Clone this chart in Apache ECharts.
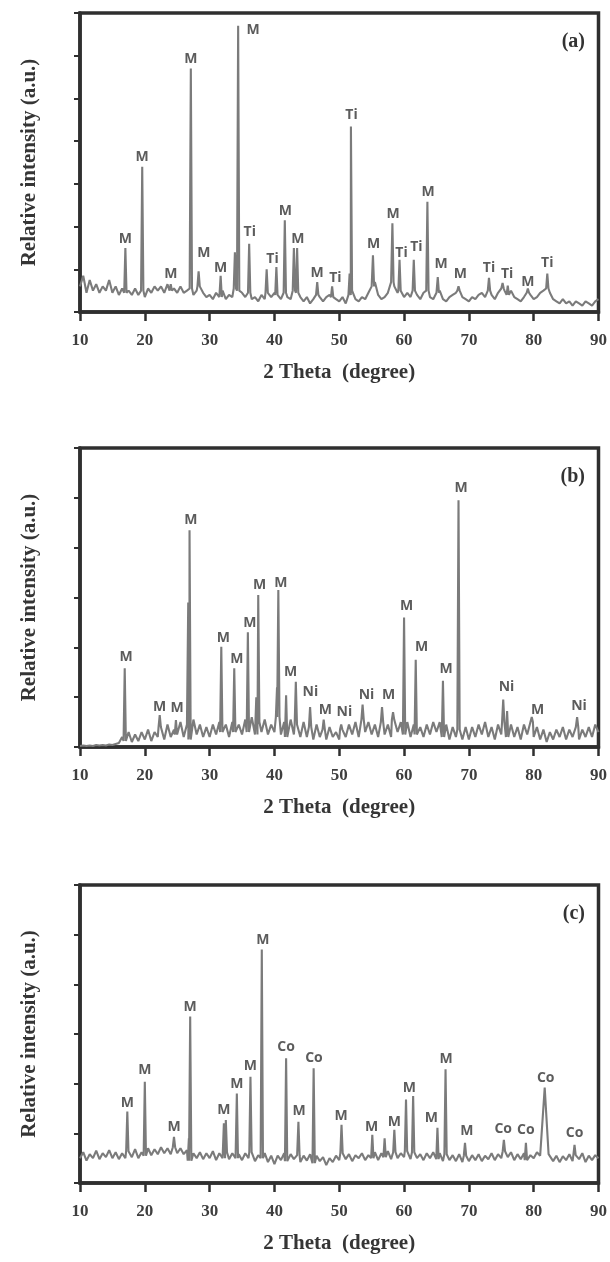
<!DOCTYPE html>
<html>
<head>
<meta charset="utf-8">
<script src="https://cdn.jsdelivr.net/npm/echarts@6/dist/echarts.min.js"></script>
<style>
  html, body { margin: 0; padding: 0; background: #fff; }
  #chart { width: 610px; height: 1262px; }
</style>
</head>
<body>
<div id="chart"></div>
<script>
// 2-theta grid of the background traces: 10 .. 90 deg, every 0.5 deg
const thetaStart = 10;
const thetaStep = 0.5;
const xTicks = [10, 20, 30, 40, 50, 60, 70, 80, 90];

// background level (relative units, one value per 0.5 deg)
const bgA = [
  0.6,0.85,0.45,0.75,0.5,0.65,0.45,0.6,0.5,0.75,
  0.45,0.6,0.4,0.55,0.45,0.5,0.4,0.55,0.4,0.5,
  0.35,0.55,0.45,0.6,0.5,0.6,0.45,0.65,0.5,0.55,
  0.45,0.6,0.45,0.5,0.55,0.4,0.5,0.6,0.45,0.35,
  0.4,0.3,0.45,0.35,0.5,0.3,0.4,0.35,0.55,0.5,
  0.45,0.35,0.45,0.3,0.35,0.25,0.4,0.3,0.45,0.35,
  0.45,0.4,0.3,0.45,0.35,0.3,0.5,0.45,0.35,0.25,
  0.35,0.2,0.3,0.4,0.35,0.25,0.35,0.4,0.35,0.3,
  0.25,0.35,0.2,0.4,0.5,0.3,0.25,0.35,0.3,0.45,
  0.6,0.7,0.4,0.3,0.35,0.45,0.7,0.6,0.45,0.5,
  0.35,0.45,0.35,0.5,0.4,0.3,0.45,0.5,0.35,0.3,
  0.45,0.5,0.3,0.25,0.35,0.4,0.45,0.5,0.35,0.3,
  0.25,0.35,0.3,0.4,0.45,0.35,0.5,0.4,0.3,0.45,
  0.55,0.5,0.4,0.5,0.35,0.3,0.25,0.35,0.45,0.4,
  0.3,0.35,0.45,0.5,0.55,0.45,0.3,0.25,0.2,0.3,
  0.2,0.25,0.15,0.25,0.2,0.15,0.25,0.2,0.15,0.25,
  0.3
];
const bgB = [
  0.02,0.03,0.02,0.03,0.02,0.04,0.03,0.04,0.03,0.05,
  0.04,0.06,0.08,0.2,0.12,0.3,0.1,0.25,0.12,0.3,
  0.15,0.35,0.12,0.3,0.2,0.4,0.15,0.45,0.2,0.35,
  0.25,0.5,0.2,0.45,0.15,0.55,0.25,0.45,0.2,0.4,
  0.2,0.45,0.25,0.5,0.3,0.45,0.2,0.5,0.3,0.45,
  0.25,0.55,0.3,0.6,0.25,0.5,0.3,0.55,0.25,0.45,
  0.3,0.6,0.25,0.5,0.2,0.55,0.25,0.45,0.2,0.5,
  0.2,0.4,0.15,0.45,0.2,0.35,0.15,0.4,0.2,0.3,
  0.15,0.35,0.2,0.45,0.25,0.5,0.2,0.55,0.3,0.5,
  0.25,0.45,0.2,0.5,0.25,0.45,0.2,0.55,0.3,0.5,
  0.25,0.5,0.2,0.45,0.25,0.4,0.2,0.45,0.25,0.5,
  0.3,0.5,0.2,0.45,0.15,0.4,0.2,0.35,0.15,0.4,
  0.15,0.4,0.2,0.45,0.25,0.5,0.2,0.4,0.15,0.45,
  0.25,0.5,0.2,0.45,0.2,0.4,0.15,0.45,0.25,0.5,
  0.2,0.4,0.15,0.35,0.1,0.3,0.15,0.35,0.2,0.4,
  0.15,0.35,0.2,0.4,0.15,0.35,0.2,0.4,0.2,0.45,
  0.3
];
const bgC = [
  0.5,0.62,0.45,0.58,0.5,0.65,0.48,0.6,0.52,0.66,
  0.5,0.62,0.48,0.6,0.5,0.64,0.52,0.68,0.5,0.62,
  0.55,0.7,0.56,0.68,0.58,0.72,0.6,0.7,0.58,0.72,
  0.6,0.7,0.58,0.66,0.45,0.6,0.5,0.62,0.48,0.6,
  0.5,0.64,0.46,0.6,0.5,0.62,0.48,0.6,0.5,0.58,
  0.46,0.6,0.5,0.62,0.44,0.56,0.5,0.6,0.42,0.55,
  0.38,0.55,0.46,0.6,0.44,0.58,0.48,0.56,0.42,0.55,
  0.45,0.58,0.4,0.55,0.44,0.52,0.36,0.5,0.42,0.55,
  0.46,0.6,0.48,0.58,0.44,0.56,0.5,0.6,0.46,0.56,
  0.5,0.62,0.46,0.6,0.52,0.64,0.48,0.62,0.5,0.6,
  0.52,0.64,0.48,0.62,0.5,0.58,0.46,0.6,0.5,0.62,
  0.48,0.6,0.44,0.58,0.46,0.56,0.44,0.58,0.42,0.55,
  0.44,0.56,0.46,0.58,0.44,0.55,0.48,0.6,0.46,0.58,
  0.5,0.64,0.52,0.62,0.46,0.58,0.48,0.6,0.46,0.56,
  0.5,0.62,0.55,0.58,0.46,0.56,0.44,0.55,0.42,0.54,
  0.46,0.58,0.44,0.56,0.48,0.6,0.42,0.55,0.46,0.56,
  0.5
];

// diffraction peaks: [2theta, top intensity, (optional half width)]
const peaksA = [
  [17.0,1.5],[19.6,3.4],[24.0,0.65],[27.1,5.7],[28.3,0.95],[31.7,0.85],[33.9,1.4],[34.4,6.7],
  [36.1,1.6],[38.8,1.0],[40.3,1.05],[41.6,2.15],[43.0,1.5],[43.5,1.5],[46.6,0.7],[48.9,0.6],
  [51.6,0.9],[51.8,4.34],[55.2,1.33],[58.2,2.08],[59.3,1.22],[61.5,1.22],[63.6,2.58],[65.2,0.82],
  [68.4,0.6],[73.1,0.8],[75.2,0.68],[76.0,0.62],[79.1,0.55],[82.1,0.9]
];
const peaksB = [
  [16.9,1.58],[22.3,0.64],[24.8,0.54],[26.7,2.9],[26.9,4.35],[31.8,2.01],[33.8,1.58],[35.9,2.3],
  [37.2,1.0],[37.5,3.05],[40.4,1.2],[40.6,3.15],[41.8,1.04],[43.3,1.31],[45.5,0.8],[47.6,0.55],
  [50.3,0.45],[53.6,0.85],[56.6,0.8],[58.3,0.7],[60.0,2.6],[61.8,1.75],[66.0,1.33],[68.4,4.95],
  [75.3,0.95],[75.9,0.72],[79.7,0.6],[86.7,0.6]
];
const peaksC = [
  [17.3,1.44],[20.0,2.04],[24.5,0.93],[26.8,0.9],[27.0,3.35],[32.2,1.2],[32.5,1.27],[34.2,1.8],
  [36.3,2.14],[38.05,4.7],[41.8,2.51],[43.7,1.23],[46.05,2.31],[50.35,1.17],[55.1,0.97],[57.0,0.9],
  [58.5,1.07],[60.3,1.68],[61.4,1.75],[65.15,1.11],[66.4,2.29],[69.4,0.81],[75.4,0.87],[78.8,0.81],
  [81.7,1.92,0.6],[86.3,0.77]
];

// phase labels: [2theta, height, text]
const labelsA = [
  [17.0,1.72,'M'],[19.6,3.63,'M'],[24.0,0.9,'M'],[27.1,5.92,'M'],[29.1,1.38,'M'],[31.7,1.02,'M'],
  [36.7,6.6,'M'],[36.2,1.87,'Ti'],[39.7,1.24,'Ti'],[41.7,2.36,'M'],[43.6,1.72,'M'],[46.6,0.92,'M'],
  [49.4,0.8,'Ti'],[51.9,4.6,'Ti'],[55.3,1.6,'M'],[58.3,2.3,'M'],[59.6,1.38,'Ti'],[61.9,1.52,'Ti'],
  [63.7,2.82,'M'],[65.7,1.12,'M'],[68.7,0.88,'M'],[73.1,1.04,'Ti'],[75.9,0.88,'Ti'],[79.1,0.7,'M'],
  [82.1,1.14,'Ti']
];
const labelsB = [
  [17.1,1.81,'M'],[22.3,0.8,'M'],[25.0,0.78,'M'],[27.1,4.55,'M'],[32.1,2.19,'M'],[34.2,1.77,'M'],
  [36.2,2.49,'M'],[37.7,3.25,'M'],[41.0,3.3,'M'],[42.5,1.5,'M'],[45.55,1.1,'Ni'],[47.85,0.75,'M'],
  [50.8,0.7,'Ni'],[54.2,1.05,'Ni'],[57.6,1.05,'M'],[60.4,2.82,'M'],[62.7,2.0,'M'],[66.5,1.57,'M'],
  [68.8,5.2,'M'],[75.8,1.2,'Ni'],[80.6,0.75,'M'],[87.0,0.82,'Ni']
];
const labelsC = [
  [17.3,1.61,'M'],[20.0,2.27,'M'],[24.5,1.13,'M'],[27.0,3.55,'M'],[32.2,1.47,'M'],[34.2,2.0,'M'],
  [36.3,2.35,'M'],[38.2,4.9,'M'],[41.8,2.73,'Co'],[43.8,1.44,'M'],[46.1,2.51,'Co'],[50.3,1.35,'M'],
  [55.0,1.12,'M'],[58.5,1.23,'M'],[60.8,1.92,'M'],[64.2,1.31,'M'],[66.5,2.5,'M'],[69.7,1.04,'M'],
  [75.3,1.08,'Co'],[78.8,1.06,'Co'],[81.85,2.12,'Co'],[86.3,1.0,'Co']
];

const panelNames = ['(a)', '(b)', '(c)'];
const yMax = [7, 6, 6];

// background samples + a narrow spike for each peak
function buildTrace(bg, peaks) {
  const defaultHalf = 0.18;
  let pts = bg.map((v, i) => [thetaStart + i * thetaStep, v]);
  pts = pts.filter(p => !peaks.some(pk => Math.abs(p[0] - pk[0]) < (pk[2] || defaultHalf)));
  peaks.forEach(pk => {
    const hw = pk[2] || defaultHalf;
    const base = bg[Math.round((pk[0] - thetaStart) / thetaStep)];
    pts.push([pk[0] - hw, base], [pk[0], pk[1]], [pk[0] + hw, base]);
  });
  pts.sort((a, b) => a[0] - b[0]);
  return pts;
}

const serif = "'Liberation Serif', 'DejaVu Serif', serif";
const frame = '#2f2f2f';
const tops = [13, 448, 885];
const heights = [299, 299, 298];

const chart = echarts.init(document.getElementById('chart'), null, { renderer: 'canvas' });

const grids = tops.map((t, i) => ({
  left: 80, width: 520, top: t, height: heights[i],
  show: true, borderColor: frame, borderWidth: 3.5, backgroundColor: 'transparent'
}));

const xAxes = tops.map((t, i) => ({
  type: 'value', gridIndex: i, min: xTicks[0], max: xTicks[xTicks.length - 1], interval: 10,
  axisLine: { show: true, onZero: false, lineStyle: { color: frame, width: 3.5 } },
  axisTick: { show: true, length: 9, lineStyle: { color: frame, width: 2.5 } },
  axisLabel: { fontFamily: serif, fontWeight: 'bold', fontSize: 17, color: '#3e3e3e', margin: 20 },
  splitLine: { show: false },
  name: '2 Theta  (degree)', nameLocation: 'middle', nameGap: 50,
  nameTextStyle: { fontFamily: serif, fontWeight: 'bold', fontSize: 21, color: '#353535' }
}));

const yAxes = tops.map((t, i) => ({
  type: 'value', gridIndex: i, min: 0, max: yMax[i], interval: 1,
  axisLine: { show: true, onZero: false, lineStyle: { color: frame, width: 3.5 } },
  axisTick: { show: true, length: 6, lineStyle: { color: frame, width: 2 } },
  axisLabel: { show: false },
  splitLine: { show: false },
  name: 'Relative intensity (a.u.)', nameLocation: 'middle', nameGap: 40,
  nameTextStyle: { fontFamily: serif, fontWeight: 'bold', fontSize: 21, color: '#353535' }
}));

const traces = [[bgA, peaksA], [bgB, peaksB], [bgC, peaksC]];
const labelSets = [labelsA, labelsB, labelsC];

const series = [];
traces.forEach(([bg, pk], i) => {
  series.push({
    type: 'line', xAxisIndex: i, yAxisIndex: i,
    data: buildTrace(bg, pk),
    showSymbol: false, symbol: 'none',
    lineStyle: { color: '#7b7b7b', width: 2.1 },
    z: 2
  });
  series.push({
    type: 'scatter', xAxisIndex: i, yAxisIndex: i,
    data: labelSets[i], symbolSize: 0,
    label: {
      show: true, position: 'inside', formatter: p => p.value[2],
      fontFamily: "'Open Sans', 'DejaVu Sans', sans-serif", fontWeight: 'bold',
      fontSize: 14, color: '#333333'
    },
    z: 3
  });
});

chart.setOption({
  animation: false,
  backgroundColor: '#ffffff',
  grid: grids,
  xAxis: xAxes,
  yAxis: yAxes,
  series: series,
  graphic: tops.map((t, i) => ({
    type: 'text', right: 25, top: t + 19,
    style: { text: panelNames[i], font: "bold 20px 'Liberation Serif', serif", fill: '#333' }
  }))
});
</script>
</body>
</html>
